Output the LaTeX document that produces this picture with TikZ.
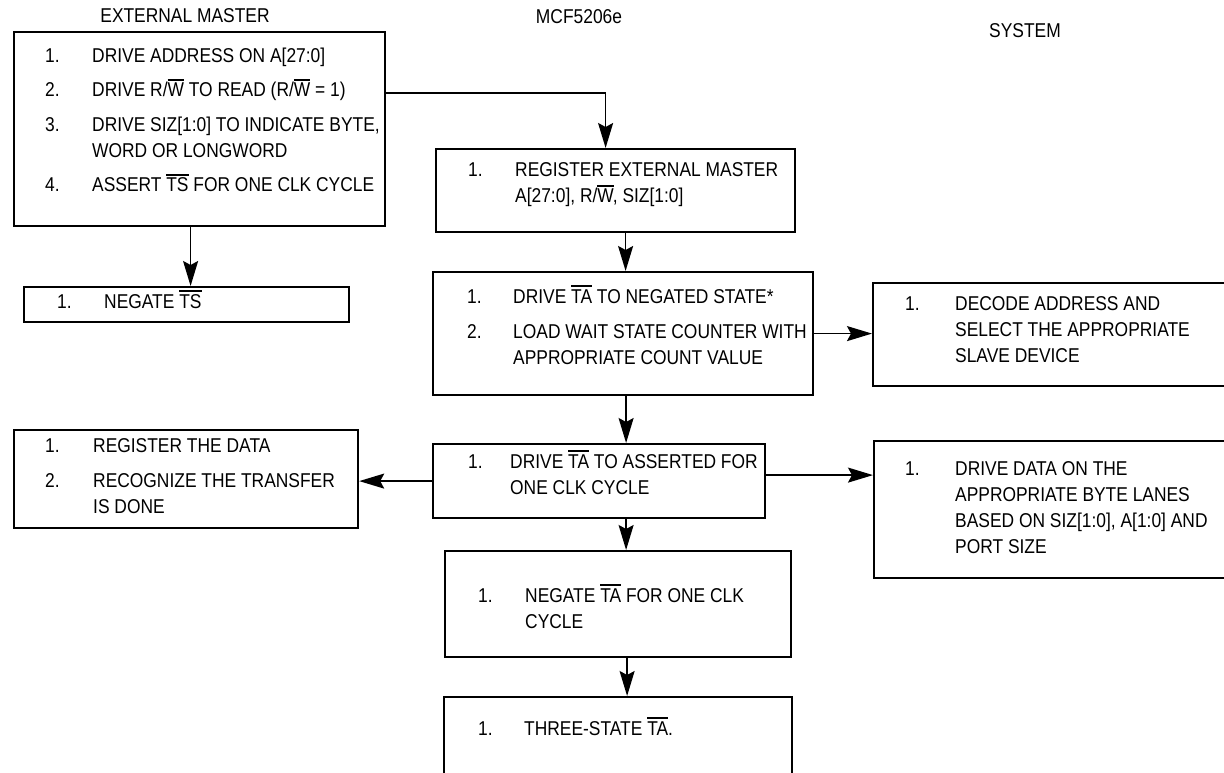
\documentclass[tikz,border=0pt]{standalone}
\usepackage{fontspec}
\setmainfont{Liberation Sans}[FakeStretch=0.87]
\usepackage{tikz}
\usetikzlibrary{arrows.meta}

\newcommand\ovl[1]{\sbox0{#1}\rlap{\rule[\dimexpr\ht0+2.5pt\relax]{\wd0}{1.6pt}}#1}
\newcommand\stepl[2][47pt]{\begin{tabular}[t]{@{}p{#1}@{}l@{}}#2\end{tabular}}

\begin{document}
\begin{tikzpicture}[x=1pt,y=-1pt,font=\fontsize{20}{26}\selectfont,
 blk/.style={draw,line width=2.2pt,inner sep=0pt,anchor=north west},
 steps/.style={anchor=base west,inner sep=0pt},
 hdr/.style={anchor=base,inner sep=0pt},
 flow/.style={line width=1.7pt,-{Stealth[length=25pt,width=15pt,inset=4pt]}}]
\useasboundingbox (0,0) rectangle (1224,773);
\clip (0,0) rectangle (1224,773);
\node[hdr] (h-em) at (185,23) {EXTERNAL MASTER};
\node[hdr] (h-mcf) at (579,24) {MCF5206e};
\node[hdr] (h-sys) at (1025,38) {SYSTEM};
% external master
\node[blk,minimum width=371pt,minimum height=194pt] (em) at (13,31) {};
\node[steps] (em-t) at (45,63) {\stepl{1. & DRIVE ADDRESS ON A[27:0]\\[8pt]
 2. & DRIVE R/\ovl{W} TO READ (R/\ovl{W} = 1)\\[9pt]
 3. & DRIVE SIZ[1:0] TO INDICATE BYTE,\\ & WORD OR LONGWORD\\[8pt]
 4. & ASSERT \ovl{TS} FOR ONE CLK CYCLE}};
\node[blk,minimum width=325pt,minimum height=35pt] (ts) at (23,286) {};
\node[steps] (ts-t) at (57,308) {\stepl{1. & NEGATE \ovl{TS}}};
\node[blk,minimum width=344pt,minimum height=98pt] (rdata) at (13,429) {};
\node[steps] (rdata-t) at (45,452) {\stepl[48pt]{1. & REGISTER THE DATA\\[9pt]
 2. & RECOGNIZE THE TRANSFER\\ & IS DONE}};
% MCF5206e
\node[blk,minimum width=359pt,minimum height=83pt] (reg) at (435,148) {};
\node[steps] (reg-t) at (468,177) {\stepl{1. & REGISTER EXTERNAL MASTER\\ & A[27:0], R/\ovl{W}, SIZ[1:0]}};
\node[blk,minimum width=380pt,minimum height=123pt] (drv) at (432,271) {};
\node[steps] (drv-t) at (467,303) {\stepl[46pt]{1. & DRIVE \ovl{TA} TO NEGATED STATE*\\[9pt]
 2. & LOAD WAIT STATE COUNTER WITH\\ & APPROPRIATE COUNT VALUE}};
\node[blk,minimum width=332pt,minimum height=74pt] (ta) at (432,443) {};
\node[steps] (ta-t) at (468,468) {\stepl[42pt]{1. & DRIVE \ovl{TA} TO ASSERTED FOR\\ & ONE CLK CYCLE}};
\node[blk,minimum width=346pt,minimum height=106pt] (neg) at (444,550) {};
\node[steps] (neg-t) at (478,602) {\stepl{1. & NEGATE \ovl{TA} FOR ONE CLK\\ & CYCLE}};
\node[blk,minimum width=348pt,minimum height=120pt] (three) at (443,696) {};
\node[steps] (three-t) at (478,735) {\stepl[46pt]{1. & THREE-STATE \ovl{TA}.}};
% system
\node[blk,minimum width=400pt,minimum height=103pt] (dec) at (872,282) {};
\node[steps] (dec-t) at (905,310) {\stepl[50pt]{1. & DECODE ADDRESS AND\\ & SELECT THE APPROPRIATE\\ & SLAVE DEVICE}};
\node[blk,minimum width=400pt,minimum height=137pt] (data) at (873,440) {};
\node[steps] (data-t) at (905,475) {\stepl[50pt]{1. & DRIVE DATA ON THE\\ & APPROPRIATE BYTE LANES\\ & BASED ON SIZ[1:0], A[1:0] AND\\ & PORT SIZE}};
% connectors
\draw[flow] ([yshift=-62pt]em.north east) -| ([xshift=-10pt]reg.north);
\draw[flow] ([xshift=4pt]ts.north |- em.south) -- ([xshift=4pt]ts.north);
\draw[flow] ([xshift=10pt]reg.south) -- ([xshift=10pt]reg.south |- drv.north);
\draw[flow] ([xshift=3pt]drv.south) -- ([xshift=3pt]drv.south |- ta.north);
\draw[flow] (drv.east) -- (drv.east -| dec.west);
\draw[flow] (ta.west) -- (ta.west -| rdata.east);
\draw[flow] ([yshift=6pt]ta.east) -- ([yshift=6pt]ta.east -| data.west);
\draw[flow] ([xshift=8pt]neg.north |- ta.south) -- ([xshift=8pt]neg.north);
\draw[flow] ([xshift=9pt]neg.south) -- ([xshift=9pt]neg.south |- three.north);
\end{tikzpicture}
\end{document}
